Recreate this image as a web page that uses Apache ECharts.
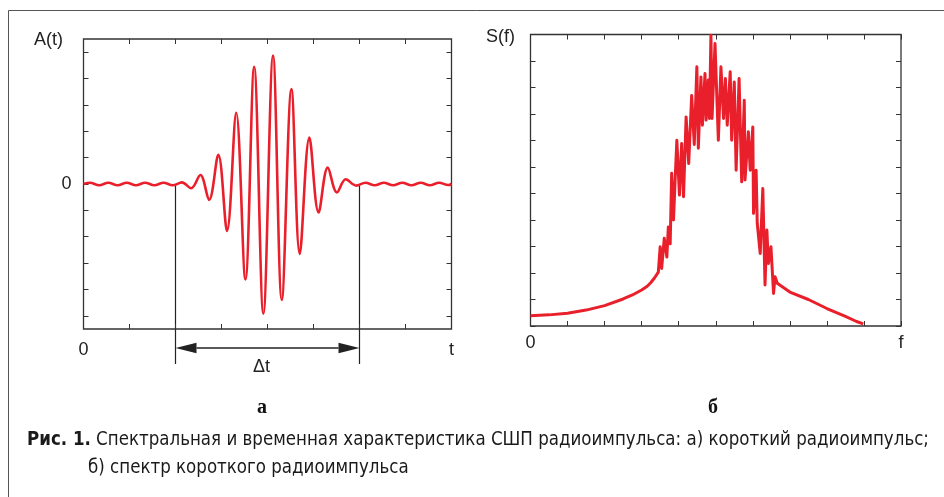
<!DOCTYPE html>
<html>
<head>
<meta charset="utf-8">
<script src="https://cdn.jsdelivr.net/npm/echarts@6/dist/echarts.min.js"></script>
<style>
html, body { margin: 0; padding: 0; background: #fff; }
#main { width: 944px; height: 497px; }
</style>
</head>
<body>
<div id="main"></div>
<script>
// а) короткий радиоимпульс: экстремумы кривой
var pulseT = [0, 0.14, 0.34, 0.54, 0.74, 0.94, 1.14, 1.34, 1.54, 1.74, 1.94, 2.14, 2.34, 2.54, 2.73, 2.93,
  3.12, 3.32, 3.52, 3.71, 3.91, 4.12, 4.31, 4.52, 4.70, 4.91, 5.11, 5.31, 5.51, 5.70, 5.93,
  6.13, 6.33, 6.53, 6.73, 6.93, 7.13, 7.33, 7.53, 7.73, 7.93, 8];
var pulseA = [0, 0.05, -0.05, 0.05, -0.05, 0.05, -0.05, 0.05, -0.05, 0.05, -0.05, 0.06, -0.16, 0.34, -0.60, 1.11,
  -1.78, 2.70, -3.62, 4.45, -4.92, 4.87, -4.40, 3.60, -2.65, 1.76, -1.08, 0.62, -0.32, 0.18, -0.06,
  0.05, -0.05, 0.05, -0.05, 0.05, -0.05, 0.05, -0.05, 0.05, -0.04, 0];

// б) спектр короткого радиоимпульса
var specF = [0, 0.5, 1.0, 1.5, 2.0, 2.5, 2.75, 3.0, 3.15, 3.25, 3.35, 3.45,
  3.50, 3.54, 3.61, 3.68, 3.72, 3.77, 3.81, 3.86, 3.90, 3.95, 4.02, 4.08, 4.13, 4.20, 4.27,
  4.35, 4.42, 4.49, 4.53, 4.60, 4.64, 4.71, 4.74, 4.80, 4.83, 4.87, 4.90, 4.98, 5.07, 5.14,
  5.21, 5.26, 5.31, 5.39, 5.43, 5.50, 5.55, 5.63, 5.70, 5.77, 5.79, 5.88, 5.93, 6.00, 6.02,
  6.09, 6.12, 6.20, 6.27, 6.33, 6.38, 6.42, 6.49, 6.56, 6.60, 6.66,
  7.0, 7.5, 8.0, 8.5, 8.8, 8.98];
var specS = [0.39, 0.42, 0.48, 0.60, 0.77, 1.02, 1.17, 1.36, 1.50, 1.64, 1.82, 2.03,
  2.99, 2.17, 3.31, 2.60, 3.74, 3.10, 5.76, 4.00, 5.40, 7.01, 4.94, 6.89, 4.88, 7.89, 6.13,
  8.70, 6.85, 9.78, 6.71, 9.40, 7.58, 9.53, 7.77, 9.28, 7.83, 10.97, 7.83, 10.66, 7.01, 9.78,
  7.83, 9.34, 7.58, 9.59, 7.01, 9.21, 5.88, 9.34, 5.44, 8.52, 5.51, 7.33, 5.88, 7.51, 4.25,
  5.88, 3.87, 2.74, 5.19, 1.55, 3.62, 2.36, 2.99, 1.23, 1.86, 1.61,
  1.28, 1.00, 0.66, 0.36, 0.17, 0.08];

var pulseTicks = [-5, -4, -3, -2, -1, 0, 1, 2, 3, 4, 5];
var dtStart = 2, dtEnd = 6;

var red = '#e9202b';
var ink = '#222';
var font = '"Liberation Sans", Arial, sans-serif';
var capFont = '"Liberation Sans Narrow", "DejaVu Sans Condensed", sans-serif';

function frameAxis(extra) {
  var a = {
    type: 'value',
    axisLine: { show: false, onZero: false },
    splitLine: { show: false },
    axisTick: { show: true, inside: true, length: 5, lineStyle: { color: '#333', width: 1 } },
    axisLabel: { show: false }
  };
  for (var k in extra) a[k] = extra[k];
  return a;
}

var option = {
  animation: false,
  backgroundColor: '#fff',
  grid: [
    { left: 83.5, top: 39, width: 368, height: 290, show: true, borderColor: '#333', borderWidth: 1.3, backgroundColor: 'transparent' },
    { left: 530.5, top: 34.5, width: 370.5, height: 291.5, show: true, borderColor: '#333', borderWidth: 1.3, backgroundColor: 'transparent' }
  ],
  xAxis: [
    frameAxis({ gridIndex: 0, min: 0, max: 8, interval: 1, position: 'bottom',
      axisLabel: { show: true, margin: 12, fontSize: 18, color: ink, fontFamily: font,
        formatter: function (v) { return v === 0 ? '0' : (v === 8 ? 't' : ''); } } }),
    frameAxis({ gridIndex: 0, min: 0, max: 8, interval: 1, position: 'top' }),
    frameAxis({ gridIndex: 1, min: 0, max: 10, interval: 1, position: 'bottom',
      axisLabel: { show: true, margin: 8, fontSize: 18, color: ink, fontFamily: font,
        formatter: function (v) { return v === 0 ? '0' : (v === 10 ? 'f' : ''); } } }),
    frameAxis({ gridIndex: 1, min: 0, max: 10, interval: 1, position: 'top' })
  ],
  yAxis: [
    frameAxis({ gridIndex: 0, min: -5.5, max: 5.5, position: 'left',
      axisTick: { show: true, inside: true, length: 5, customValues: pulseTicks, lineStyle: { color: '#333' } },
      axisLabel: { show: true, customValues: [0], margin: 12, fontSize: 18, color: ink, fontFamily: font,
        formatter: function () { return '0'; } } }),
    frameAxis({ gridIndex: 0, min: -5.5, max: 5.5, position: 'right',
      axisTick: { show: true, inside: true, length: 5, customValues: pulseTicks, lineStyle: { color: '#333' } } }),
    frameAxis({ gridIndex: 1, min: 0, max: 11, interval: 1, position: 'left' }),
    frameAxis({ gridIndex: 1, min: 0, max: 11, interval: 1, position: 'right' })
  ],
  series: [
    {
      type: 'line', xAxisIndex: 0, yAxisIndex: 0,
      data: pulseT.map(function (t, i) { return [t, pulseA[i]]; }),
      smooth: 0.36, showSymbol: false,
      lineStyle: { color: red, width: 2.6 }
    },
    {
      type: 'line', xAxisIndex: 2, yAxisIndex: 2,
      data: specF.map(function (f, i) { return [f, specS[i]]; }),
      smooth: false, showSymbol: false,
      lineStyle: { color: red, width: 3, join: 'round' }
    }
  ]
};

var chart = echarts.init(document.getElementById('main'));
chart.setOption(option);

// стрелка Δt и вертикальные линии по координатам данных
var pA = chart.convertToPixel({ xAxisIndex: 0, yAxisIndex: 0 }, [dtStart, 0]);
var pB = chart.convertToPixel({ xAxisIndex: 0, yAxisIndex: 0 }, [dtEnd, 0]);
var ay = 348, head = 21, hh = 5.3;

chart.setOption({
  graphic: [
    { type: 'rect', shape: { x: 8.5, y: 10.5, width: 1000, height: 600 }, style: { fill: 'none', stroke: '#555', lineWidth: 1 } },
    { type: 'text', x: 63, y: 40, style: { text: 'A(t)', font: '18px ' + font, fill: ink, textAlign: 'right', textVerticalAlign: 'middle' } },
    { type: 'text', x: 515, y: 37, style: { text: 'S(f)', font: '18px ' + font, fill: ink, textAlign: 'right', textVerticalAlign: 'middle' } },
    { type: 'line', shape: { x1: pA[0], y1: pA[1], x2: pA[0], y2: 364 }, style: { stroke: '#222', lineWidth: 1.2 } },
    { type: 'line', shape: { x1: pB[0], y1: pB[1], x2: pB[0], y2: 364 }, style: { stroke: '#222', lineWidth: 1.2 } },
    { type: 'line', shape: { x1: pA[0] + head, y1: ay, x2: pB[0] - head, y2: ay }, style: { stroke: '#222', lineWidth: 1.3 } },
    { type: 'polygon', shape: { points: [[pA[0], ay], [pA[0] + head, ay - hh], [pA[0] + head, ay + hh]] }, style: { fill: '#222' } },
    { type: 'polygon', shape: { points: [[pB[0], ay], [pB[0] - head, ay - hh], [pB[0] - head, ay + hh]] }, style: { fill: '#222' } },
    { type: 'text', x: (pA[0] + pB[0]) / 2 - 6, y: 367, style: { text: 'Δt', font: '18px ' + font, fill: ink, textAlign: 'center', textVerticalAlign: 'middle' } },
    { type: 'text', x: 262, y: 408, style: { text: 'а', font: 'bold 20px "Liberation Serif", serif', fill: '#111', textAlign: 'center', textVerticalAlign: 'middle' } },
    { type: 'text', x: 713, y: 408, style: { text: 'б', font: 'bold 20px "Liberation Serif", serif', fill: '#111', textAlign: 'center', textVerticalAlign: 'middle' } },
    { type: 'text', x: 27, y: 440, scaleX: 0.975, style: {
        text: '{b|Рис. 1.} Спектральная и временная характеристика СШП радиоимпульса: а) короткий радиоимпульс;',
        font: '19px ' + capFont, fill: '#1a1a1a',
        textVerticalAlign: 'middle',
        rich: { b: { fontWeight: 'bold', fontSize: 19, fontFamily: capFont, fill: '#1a1a1a' } }
      } },
    { type: 'text', x: 88, y: 468, scaleX: 0.975, style: { text: 'б) спектр короткого радиоимпульса', font: '19px ' + capFont, fill: '#1a1a1a', textVerticalAlign: 'middle' } }
  ]
});
</script>
</body>
</html>
